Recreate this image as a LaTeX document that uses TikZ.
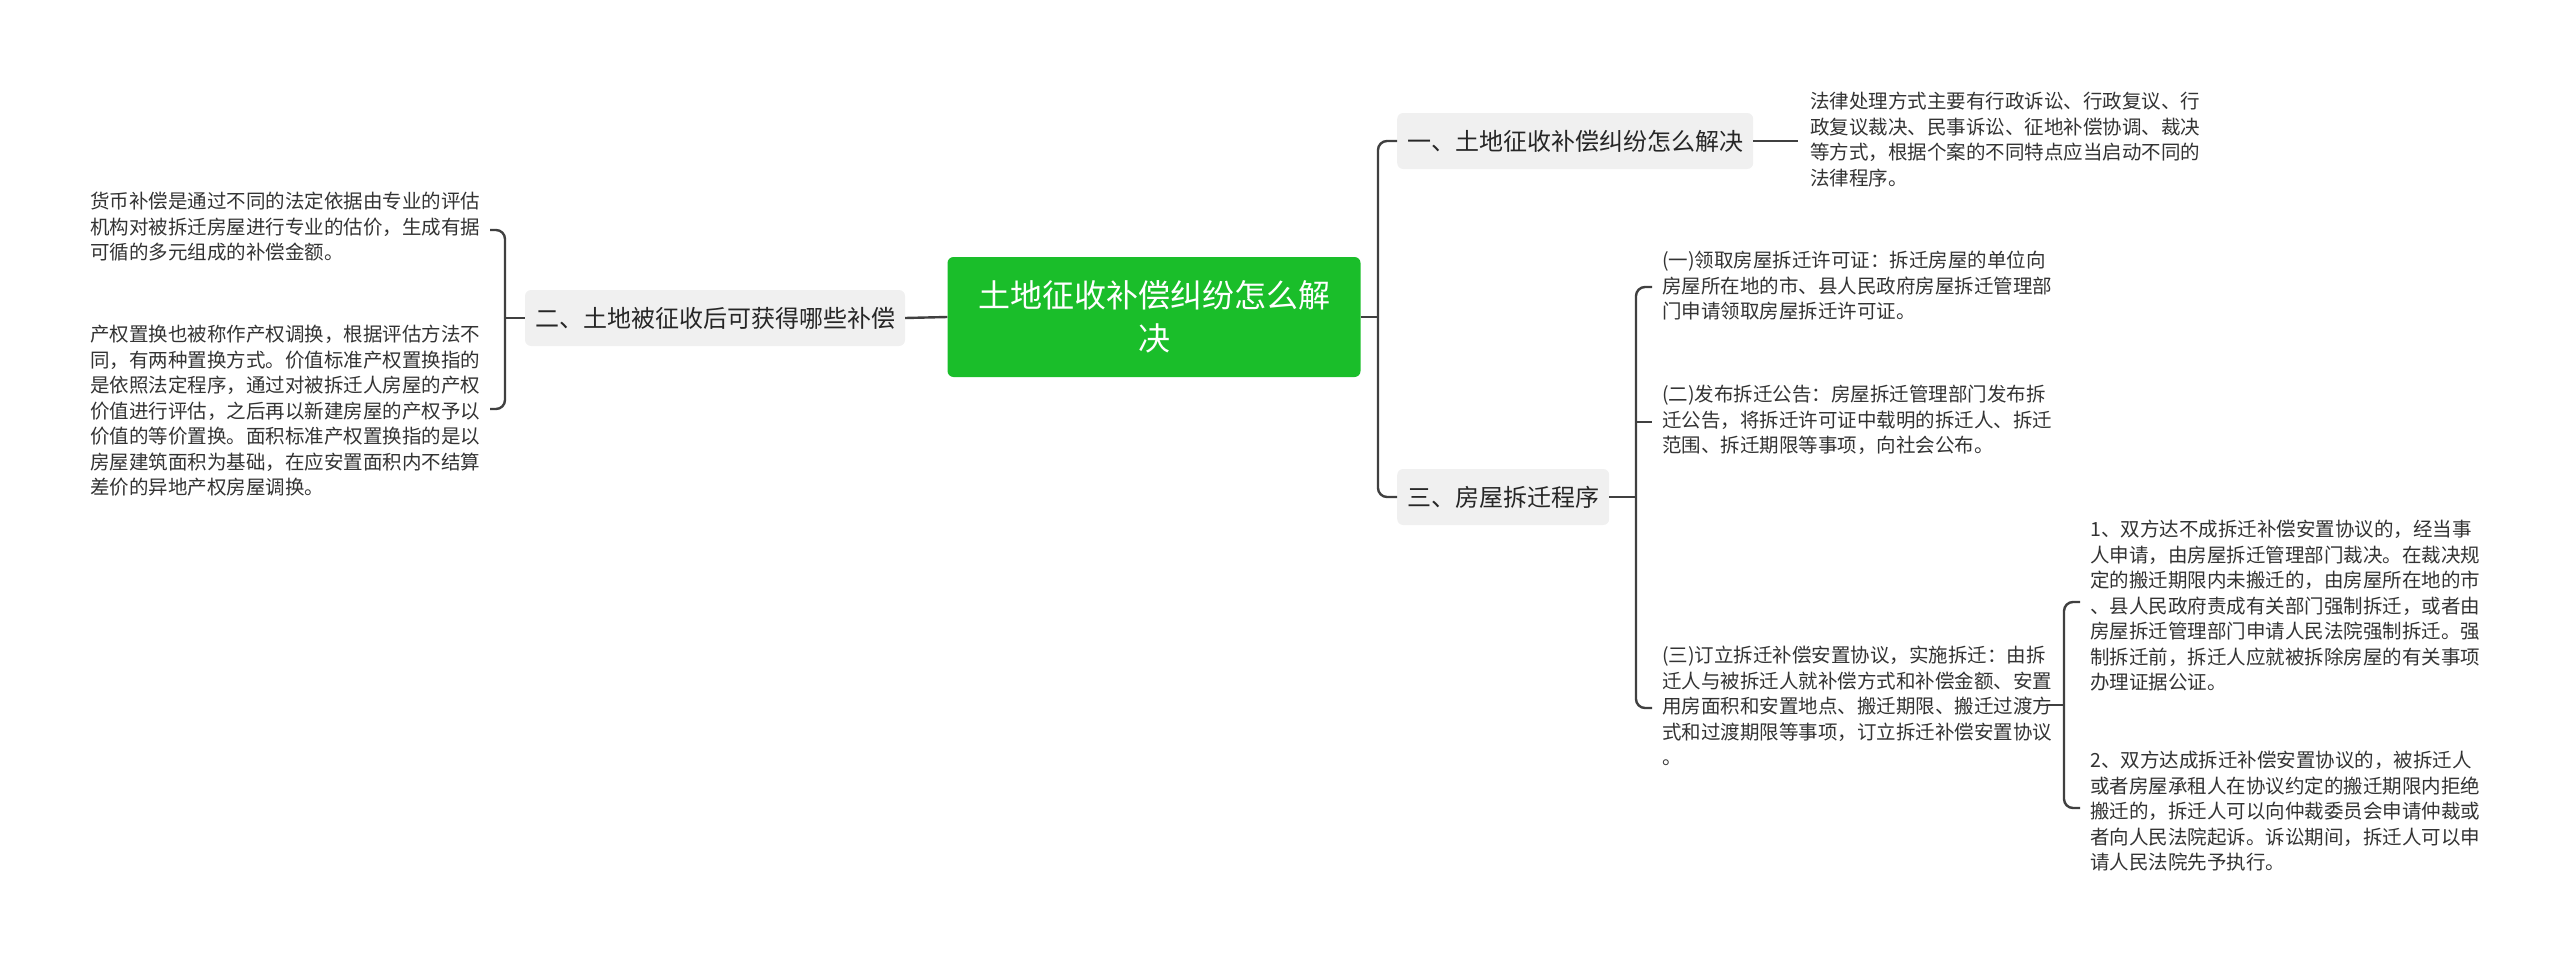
\documentclass[tikz,border=0pt]{standalone}
\usepackage{fontspec}
\setmainfont{Noto Sans CJK SC}
\begin{document}
\begin{tikzpicture}[x=1pt,y=-1pt,
  link/.style={draw=black!75,line width=2.4pt,rounded corners=9pt},
  leaf/.style={anchor=north west,inner sep=0pt,align=left,text=black!80,font=\fontsize{19.5}{25.5}\selectfont},
  branch/.style={fill=gray!12,rounded corners=6pt,inner xsep=10pt,minimum height=56pt,text=black!85,font=\fontsize{24}{30}\selectfont},
  rootbox/.style={fill=green!60!black!70!lime,fill={rgb,255:red,26;green,190;blue,42},rounded corners=6pt,text=white,align=center,minimum width=413pt,minimum height=120pt,font=\fontsize{32}{43}\selectfont}]
\useasboundingbox (0,0) rectangle (2560,958);
\node[rootbox] (root) at (1154,317) {土地征收补偿纠纷怎么解\\决};
\node[branch] (b2) at (715,318) {二、土地被征收后可获得哪些补偿};
\node[branch,anchor=west] (b1) at (1397,141) {一、土地征收补偿纠纷怎么解决};
\node[branch,anchor=west] (b3) at (1397,497) {三、房屋拆迁程序};
% left leaves
\node[leaf] (l1) at (90,192) {货币补偿是通过不同的法定依据由专业的评估\\机构对被拆迁房屋进行专业的估价，生成有据\\可循的多元组成的补偿金额。};
\node[leaf] (l2) at (90,325) {产权置换也被称作产权调换，根据评估方法不\\同，有两种置换方式。价值标准产权置换指的\\是依照法定程序，通过对被拆迁人房屋的产权\\价值进行评估，之后再以新建房屋的产权予以\\价值的等价置换。面积标准产权置换指的是以\\房屋建筑面积为基础，在应安置面积内不结算\\差价的异地产权房屋调换。};
% right leaves
\node[leaf] (r1) at (1810,92) {法律处理方式主要有行政诉讼、行政复议、行\\政复议裁决、民事诉讼、征地补偿协调、裁决\\等方式，根据个案的不同特点应当启动不同的\\法律程序。};
\node[leaf] (ra) at (1662,251) {(一)领取房屋拆迁许可证：拆迁房屋的单位向\\房屋所在地的市、县人民政府房屋拆迁管理部\\门申请领取房屋拆迁许可证。};
\node[leaf] (rb) at (1662,385) {(二)发布拆迁公告：房屋拆迁管理部门发布拆\\迁公告，将拆迁许可证中载明的拆迁人、拆迁\\范围、拆迁期限等事项，向社会公布。};
\node[leaf] (rc) at (1662,646) {(三)订立拆迁补偿安置协议，实施拆迁：由拆\\迁人与被拆迁人就补偿方式和补偿金额、安置\\用房面积和安置地点、搬迁期限、搬迁过渡方\\式和过渡期限等事项，订立拆迁补偿安置协议\\。};
\node[leaf] (s1) at (2090,520) {1、双方达不成拆迁补偿安置协议的，经当事\\人申请，由房屋拆迁管理部门裁决。在裁决规\\定的搬迁期限内未搬迁的，由房屋所在地的市\\、县人民政府责成有关部门强制拆迁，或者由\\房屋拆迁管理部门申请人民法院强制拆迁。强\\制拆迁前，拆迁人应就被拆除房屋的有关事项\\办理证据公证。};
\node[leaf] (s2) at (2090,751) {2、双方达成拆迁补偿安置协议的，被拆迁人\\或者房屋承租人在协议约定的搬迁期限内拒绝\\搬迁的，拆迁人可以向仲裁委员会申请仲裁或\\者向人民法院起诉。诉讼期间，拆迁人可以申\\请人民法院先予执行。};
% coordinates
\coordinate (lt1) at (490,230);
\coordinate (lt2) at (490,409);
\coordinate (ls) at (505,318);
\coordinate (rs) at (1378,317);
\coordinate (r1t) at (1798,141);
\coordinate (ta) at (1652,287);
\coordinate (tb) at (1652,422);
\coordinate (tc) at (1652,708);
\coordinate (s3) at (1636,497);
\coordinate (tcr) at (2046,705);
\coordinate (ss) at (2064,705);
\coordinate (u1) at (2080,602);
\coordinate (u2) at (2080,808);
% connectors
\draw[link] (root.west) -- (b2.east);
\draw[link] (lt1) -| (ls) |- (lt2);
\draw[link] (ls) -- (b2.west);
\draw[link] (root.east) -- (rs);
\draw[link] (b1.west) -| (rs) |- (b3.west);
\draw[link] (b1.east) -- (r1t);
\draw[link] (b3.east) -- (s3);
\draw[link] (ta) -| (s3) |- (tc);
\draw[link] (s3 |- tb) -- (tb);
\draw[link] (tcr) -- (ss);
\draw[link] (u1) -| (ss) |- (u2);
\end{tikzpicture}
\end{document}
